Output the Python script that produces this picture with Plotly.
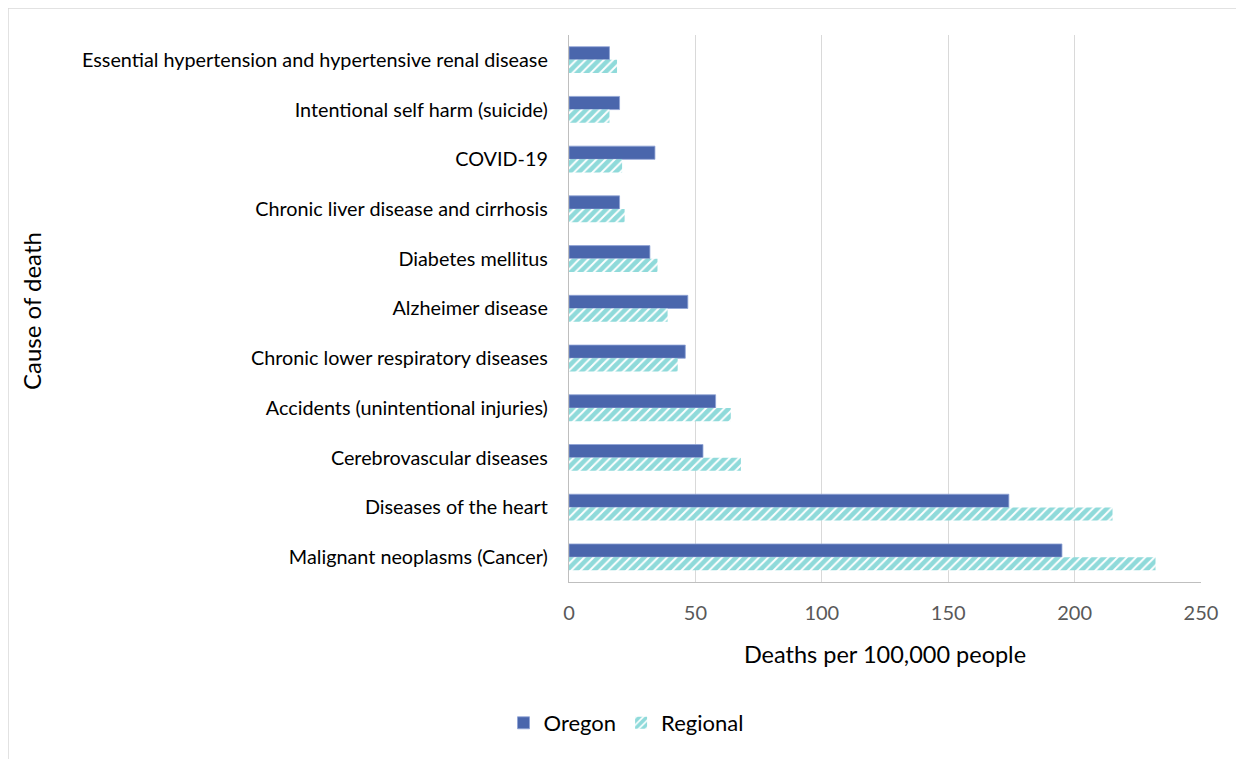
import plotly.graph_objects as go

categories = [
    "Essential hypertension and hypertensive renal disease",
    "Intentional self harm (suicide)",
    "COVID-19",
    "Chronic liver disease and cirrhosis",
    "Diabetes mellitus",
    "Alzheimer disease",
    "Chronic lower respiratory diseases",
    "Accidents (unintentional injuries)",
    "Cerebrovascular diseases",
    "Diseases of the heart",
    "Malignant neoplasms (Cancer)",
]
oregon = [16, 20, 34, 20, 32, 47, 46, 58, 53, 174, 195]
regional = [19, 16, 21, 22, 35, 39, 43, 64, 68, 215, 232]
x_ticks = [0, 50, 100, 150, 200, 250]

FONT = "Lato, 'Open Sans', sans-serif"
OFF = 8  # page body margin
W, H = 1244 - OFF, 759 - OFF
L, R, T, B = 569 - OFF, 43, 35 - OFF, 177
pw, ph = W - L - R, H - T - B

def px_to_paper_x(px):
    return (px - OFF - L) / pw

def px_to_paper_y(py):
    return (H - B - (py - OFF)) / ph

fig = go.Figure()
fig.add_trace(go.Bar(
    y=categories, x=oregon, name="Oregon", orientation="h",
    marker=dict(color="#4A66AC", line=dict(color="#8FA3D6", width=0.8)),
))
fig.add_trace(go.Bar(
    y=categories, x=regional, name="Regional", orientation="h",
    marker=dict(color="white", line=dict(width=0),
                pattern=dict(shape="/", fgcolor="#1FB5B5", bgcolor="white",
                             size=6.5, solidity=0.7)),
))

# outer chart border
fig.add_shape(type="rect", xref="paper", yref="paper",
              x0=px_to_paper_x(8), x1=px_to_paper_x(1260),
              y0=px_to_paper_y(780), y1=px_to_paper_y(8),
              line=dict(color="#D9D9D9", width=1.5), fillcolor="rgba(0,0,0,0)",
              layer="below")

# y-axis title as annotation (far left)
fig.add_annotation(text="Cause of death", xref="paper", yref="paper",
                   x=px_to_paper_x(31), y=px_to_paper_y(311),
                   xanchor="center", yanchor="middle", textangle=-90,
                   showarrow=False, font=dict(size=24, color="#000", family=FONT))

fig.update_layout(
    width=W, height=H,
    margin=dict(l=L, r=R, t=T, b=B),
    paper_bgcolor="white", plot_bgcolor="white",
    barmode="group", bargap=0.47, bargroupgap=0.0,
    font=dict(family=FONT, color="#000000"),
    xaxis=dict(
        range=[0, 250], tickvals=x_ticks, showgrid=True, gridcolor="#D9D9D9",
        gridwidth=1.3, zeroline=False, showline=True, linecolor="#BFBFBF",
        linewidth=1.3, ticks="", ticklabelstandoff=13,
        tickfont=dict(size=20, color="#595959", family=FONT),
        title=dict(text="Deaths per 100,000 people", font=dict(size=23.5, color="#000"),
                   standoff=23),
    ),
    yaxis=dict(
        autorange="reversed", showgrid=False, zeroline=False, showline=True,
        linecolor="#BFBFBF", linewidth=1.3, ticks="", ticklabelstandoff=16,
        tickfont=dict(size=19.8, color="#000", family=FONT),
    ),
    legend=dict(orientation="h", x=px_to_paper_x(626), xanchor="center",
                y=px_to_paper_y(723), yanchor="middle",
                font=dict(size=22, color="#000"), traceorder="normal",
                itemwidth=30),
    showlegend=True,
)

fig.write_html("out.html")
